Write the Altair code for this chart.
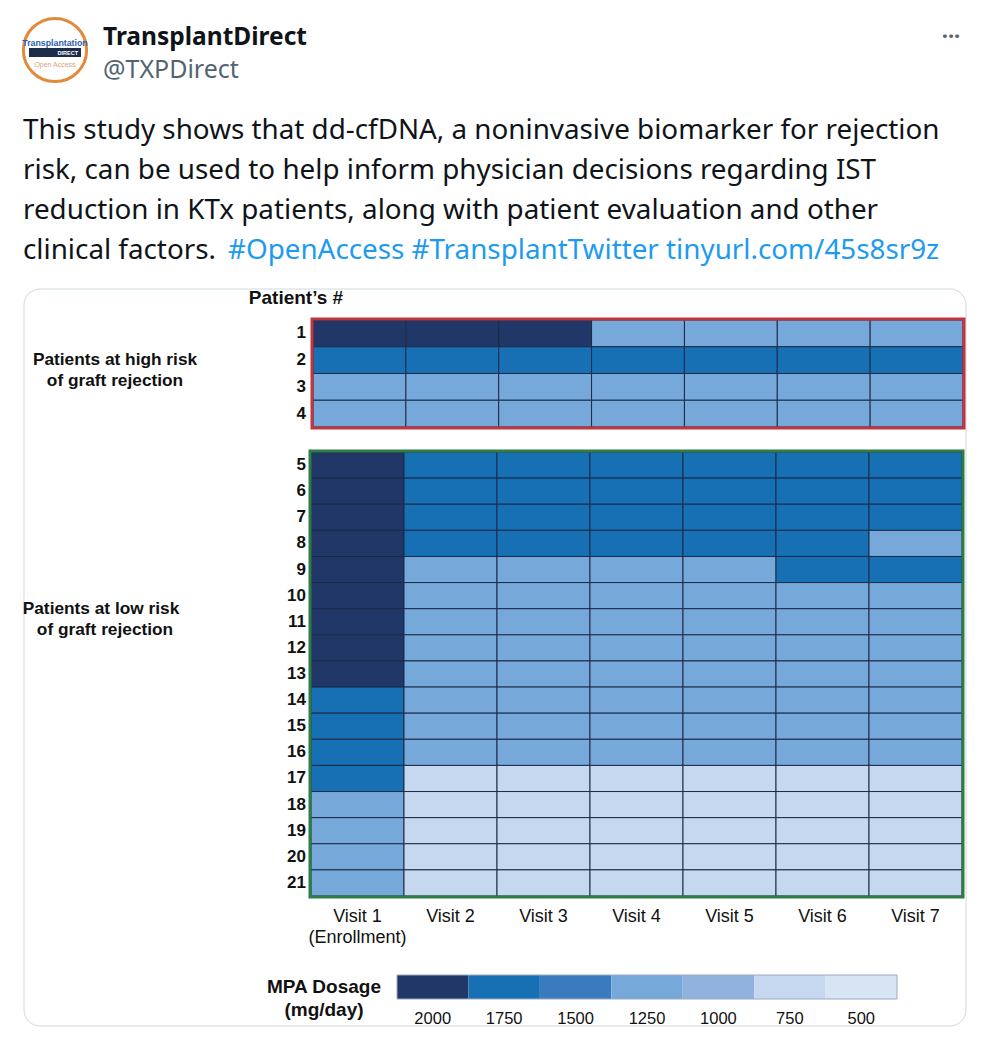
import altair as alt
import pandas as pd

# ---------------- data ----------------
visit_labels = ["Visit 1\n(Enrollment)", "Visit 2", "Visit 3", "Visit 4",
                "Visit 5", "Visit 6", "Visit 7"]
high_risk_patients = ["1", "2", "3", "4"]
low_risk_patients = ["5", "6", "7", "8", "9", "10", "11", "12", "13",
                     "14", "15", "16", "17", "18", "19", "20", "21"]

# MPA dosage (mg/day) per visit
high_risk_doses = [
    [2000, 2000, 2000, 1250, 1250, 1250, 1250],
    [1750, 1750, 1750, 1750, 1750, 1750, 1750],
    [1250, 1250, 1250, 1250, 1250, 1250, 1250],
    [1250, 1250, 1250, 1250, 1250, 1250, 1250],
]
low_risk_doses = [
    [2000, 1750, 1750, 1750, 1750, 1750, 1750],
    [2000, 1750, 1750, 1750, 1750, 1750, 1750],
    [2000, 1750, 1750, 1750, 1750, 1750, 1750],
    [2000, 1750, 1750, 1750, 1750, 1750, 1250],
    [2000, 1250, 1250, 1250, 1250, 1750, 1750],
    [2000, 1250, 1250, 1250, 1250, 1250, 1250],
    [2000, 1250, 1250, 1250, 1250, 1250, 1250],
    [2000, 1250, 1250, 1250, 1250, 1250, 1250],
    [2000, 1250, 1250, 1250, 1250, 1250, 1250],
    [1750, 1250, 1250, 1250, 1250, 1250, 1250],
    [1750, 1250, 1250, 1250, 1250, 1250, 1250],
    [1750, 1250, 1250, 1250, 1250, 1250, 1250],
    [1750, 750, 750, 750, 750, 750, 750],
    [1250, 750, 750, 750, 750, 750, 750],
    [1250, 750, 750, 750, 750, 750, 750],
    [1250, 750, 750, 750, 750, 750, 750],
    [1250, 750, 750, 750, 750, 750, 750],
]
dose_levels = [2000, 1750, 1500, 1250, 1000, 750, 500]
dose_colors = ["#213767", "#1670b3", "#3a7abf", "#77a8da",
               "#90b2dc", "#c5d8f0", "#d7e4f4"]

tweet_lines = [
    "This study shows that dd-cfDNA, a noninvasive biomarker for rejection",
    "risk, can be used to help inform physician decisions regarding IST",
    "reduction in KTx patients, along with patient evaluation and other",
]
tweet_last_black = "clinical factors."
tweet_last_blue = "#OpenAccess #TransplantTwitter tinyurl.com/45s8sr9z"


def long_table(patients, doses):
    rows = []
    for p, row in zip(patients, doses):
        for v, d in zip(visit_labels, row):
            rows.append({"patient": p, "visit": v, "dose": d})
    return pd.DataFrame(rows)


high_df = long_table(high_risk_patients, high_risk_doses)
low_df = long_table(low_risk_patients, low_risk_doses)
high_pat_df = pd.DataFrame({"patient": high_risk_patients})
low_pat_df = pd.DataFrame({"patient": low_risk_patients})
visit_df = pd.DataFrame({"visit": visit_labels})
legend_df = pd.DataFrame({"dose": dose_levels})

# ---------------- helpers ----------------
OFF = 8  # page margin
def P(v):
    return v - OFF

dummy = pd.DataFrame({"a": [0]})
ARIAL = "Liberation Sans"
TW = "Noto Sans"
TWSIZE = 27.8


def label(text, x, y, size, weight="normal", color="#000000", align="left",
          font=ARIAL, baseline="alphabetic"):
    return alt.Chart(dummy).mark_text(
        text=text, fontSize=size, fontWeight=weight, color=color,
        align=align, font=font, baseline=baseline
    ).encode(x=alt.value(P(x)), y=alt.value(P(y)))


def box(x1, y1, x2, y2, **kw):
    return alt.Chart(dummy).mark_rect(**kw).encode(
        x=alt.value(P(x1)), x2=alt.value(P(x2)),
        y=alt.value(P(y1)), y2=alt.value(P(y2)))


color_enc = alt.Color("dose:O", scale=alt.Scale(domain=dose_levels, range=dose_colors),
                      legend=None)

# ---------------- header (tweet) ----------------
avatar = alt.layer(
    alt.Chart(dummy).mark_point(shape="circle", size=4000, filled=True, fill="white",
                                stroke="#e08a3c", strokeWidth=3, opacity=1)
    .encode(x=alt.value(P(55)), y=alt.value(P(50))),
    box(29, 48, 81, 57, fill="#1d2b4a"),
    label("Transplantation", 55, 46, 8.8, "bold", "#2a5ea8", "center"),
    label("DIRECT", 78, 55, 5.5, "bold", "#ffffff", "right"),
    label("Open Access", 55, 67, 7, "normal", "#d9a57a", "center"),
)

header = alt.layer(
    avatar,
    label("TransplantDirect", 103, 45, 24.5, "bold", "#0f1419", font=TW),
    label("@TXPDirect", 103, 78, 25, "normal", "#536471", font=TW),
    label("···", 951, 44, 22, "bold", "#536471", "center", font=TW),
    *[label(t, 23, 139 + 40 * i, TWSIZE, "normal", "#0f1419", font=TW)
      for i, t in enumerate(tweet_lines)],
    label(tweet_last_black, 23, 259, TWSIZE, "normal", "#0f1419", font=TW),
    label(tweet_last_blue, 228, 259, TWSIZE, "normal", "#1d9bf0", font=TW),
)

card = box(24, 289, 966, 1026, fill="white", stroke="#cfd9de", strokeWidth=1,
           cornerRadius=16)

# ---------------- top panel (high risk) ----------------
x_top = alt.X("visit:N", sort=visit_labels, axis=None,
              scale=alt.Scale(range=[P(313), P(963)], paddingInner=0, paddingOuter=0))
y_top = alt.Y("patient:N", sort=high_risk_patients, axis=None,
              scale=alt.Scale(range=[P(320), P(427)], paddingInner=0, paddingOuter=0))

top_cells = alt.Chart(high_df).mark_rect(stroke="#1b2a48", strokeWidth=1).encode(
    x=x_top, y=y_top, color=color_enc)
top_nums = alt.Chart(high_pat_df).mark_text(
    align="right", baseline="middle", fontSize=17, fontWeight="bold", font=ARIAL,
    color="#111111").encode(y=y_top, x=alt.value(P(306)), text="patient:N")
top_border = box(312, 319, 964, 428, filled=False, stroke="#c0363c", strokeWidth=3)
top_panel = alt.layer(top_cells, top_nums, top_border)

# ---------------- bottom panel (low risk) ----------------
x_bot = alt.X("visit:N", sort=visit_labels, axis=None,
              scale=alt.Scale(range=[P(311), P(962)], paddingInner=0, paddingOuter=0))
y_bot = alt.Y("patient:N", sort=low_risk_patients, axis=None,
              scale=alt.Scale(range=[P(452), P(896)], paddingInner=0, paddingOuter=0))

bot_cells = alt.Chart(low_df).mark_rect(stroke="#1b2a48", strokeWidth=1).encode(
    x=x_bot, y=y_bot, color=color_enc)
bot_nums = alt.Chart(low_pat_df).mark_text(
    align="right", baseline="middle", fontSize=17, fontWeight="bold", font=ARIAL,
    color="#111111").encode(y=y_bot, x=alt.value(P(306)), text="patient:N")
bot_visits = alt.Chart(visit_df).mark_text(
    baseline="alphabetic", fontSize=18, fontWeight="normal", font=ARIAL,
    color="#111111", lineBreak="\n", lineHeight=21).encode(
    x=x_bot, y=alt.value(P(922)), text="visit:N")
bot_border = box(310, 451, 963, 897, filled=False, stroke="#2e7d46", strokeWidth=3)
bot_panel = alt.layer(bot_cells, bot_nums, bot_visits, bot_border)

# ---------------- legend ----------------
x_leg = alt.X("dose:O", sort=dose_levels, axis=None,
              scale=alt.Scale(range=[P(397), P(897)], paddingInner=0, paddingOuter=0))
leg_rects = alt.Chart(legend_df).mark_rect().encode(
    x=x_leg, y=alt.value(P(975)), y2=alt.value(P(999)), color=color_enc)
leg_text = alt.Chart(legend_df).mark_text(
    baseline="alphabetic", fontSize=16.5, fontWeight="normal", font=ARIAL,
    color="#111111").encode(x=x_leg, y=alt.value(P(1024)), text="dose:O")
leg_border = box(397, 975, 897, 999, filled=False, stroke="#9aabbf", strokeWidth=1)
legend = alt.layer(leg_rects, leg_text, leg_border)

# ---------------- static labels in figure ----------------
fig_labels = alt.layer(
    label("Patient\u2019s #", 296, 304, 19, "bold", "#111111", "center"),
    label("Patients at high risk", 115, 365, 17.3, "bold", "#111111", "center"),
    label("of graft rejection", 115, 386, 17.3, "bold", "#111111", "center"),
    label("Patients at low risk", 101, 614, 17.3, "bold", "#111111", "center"),
    label("of graft rejection", 105, 635, 17.3, "bold", "#111111", "center"),
    label("MPA Dosage", 324, 993, 19, "bold", "#111111", "center"),
    label("(mg/day)", 324, 1016, 19, "bold", "#111111", "center"),
)

chart = alt.layer(
    header, card, top_panel, bot_panel, legend, fig_labels
).resolve_scale(
    x="independent", y="independent"
).properties(
    width=969, height=1024, padding=0, autosize=alt.AutoSizeParams(type="none"),
    background="white"
).configure_view(stroke=None)

chart.save("out.html", embed_options={"renderer": "svg", "actions": False})
